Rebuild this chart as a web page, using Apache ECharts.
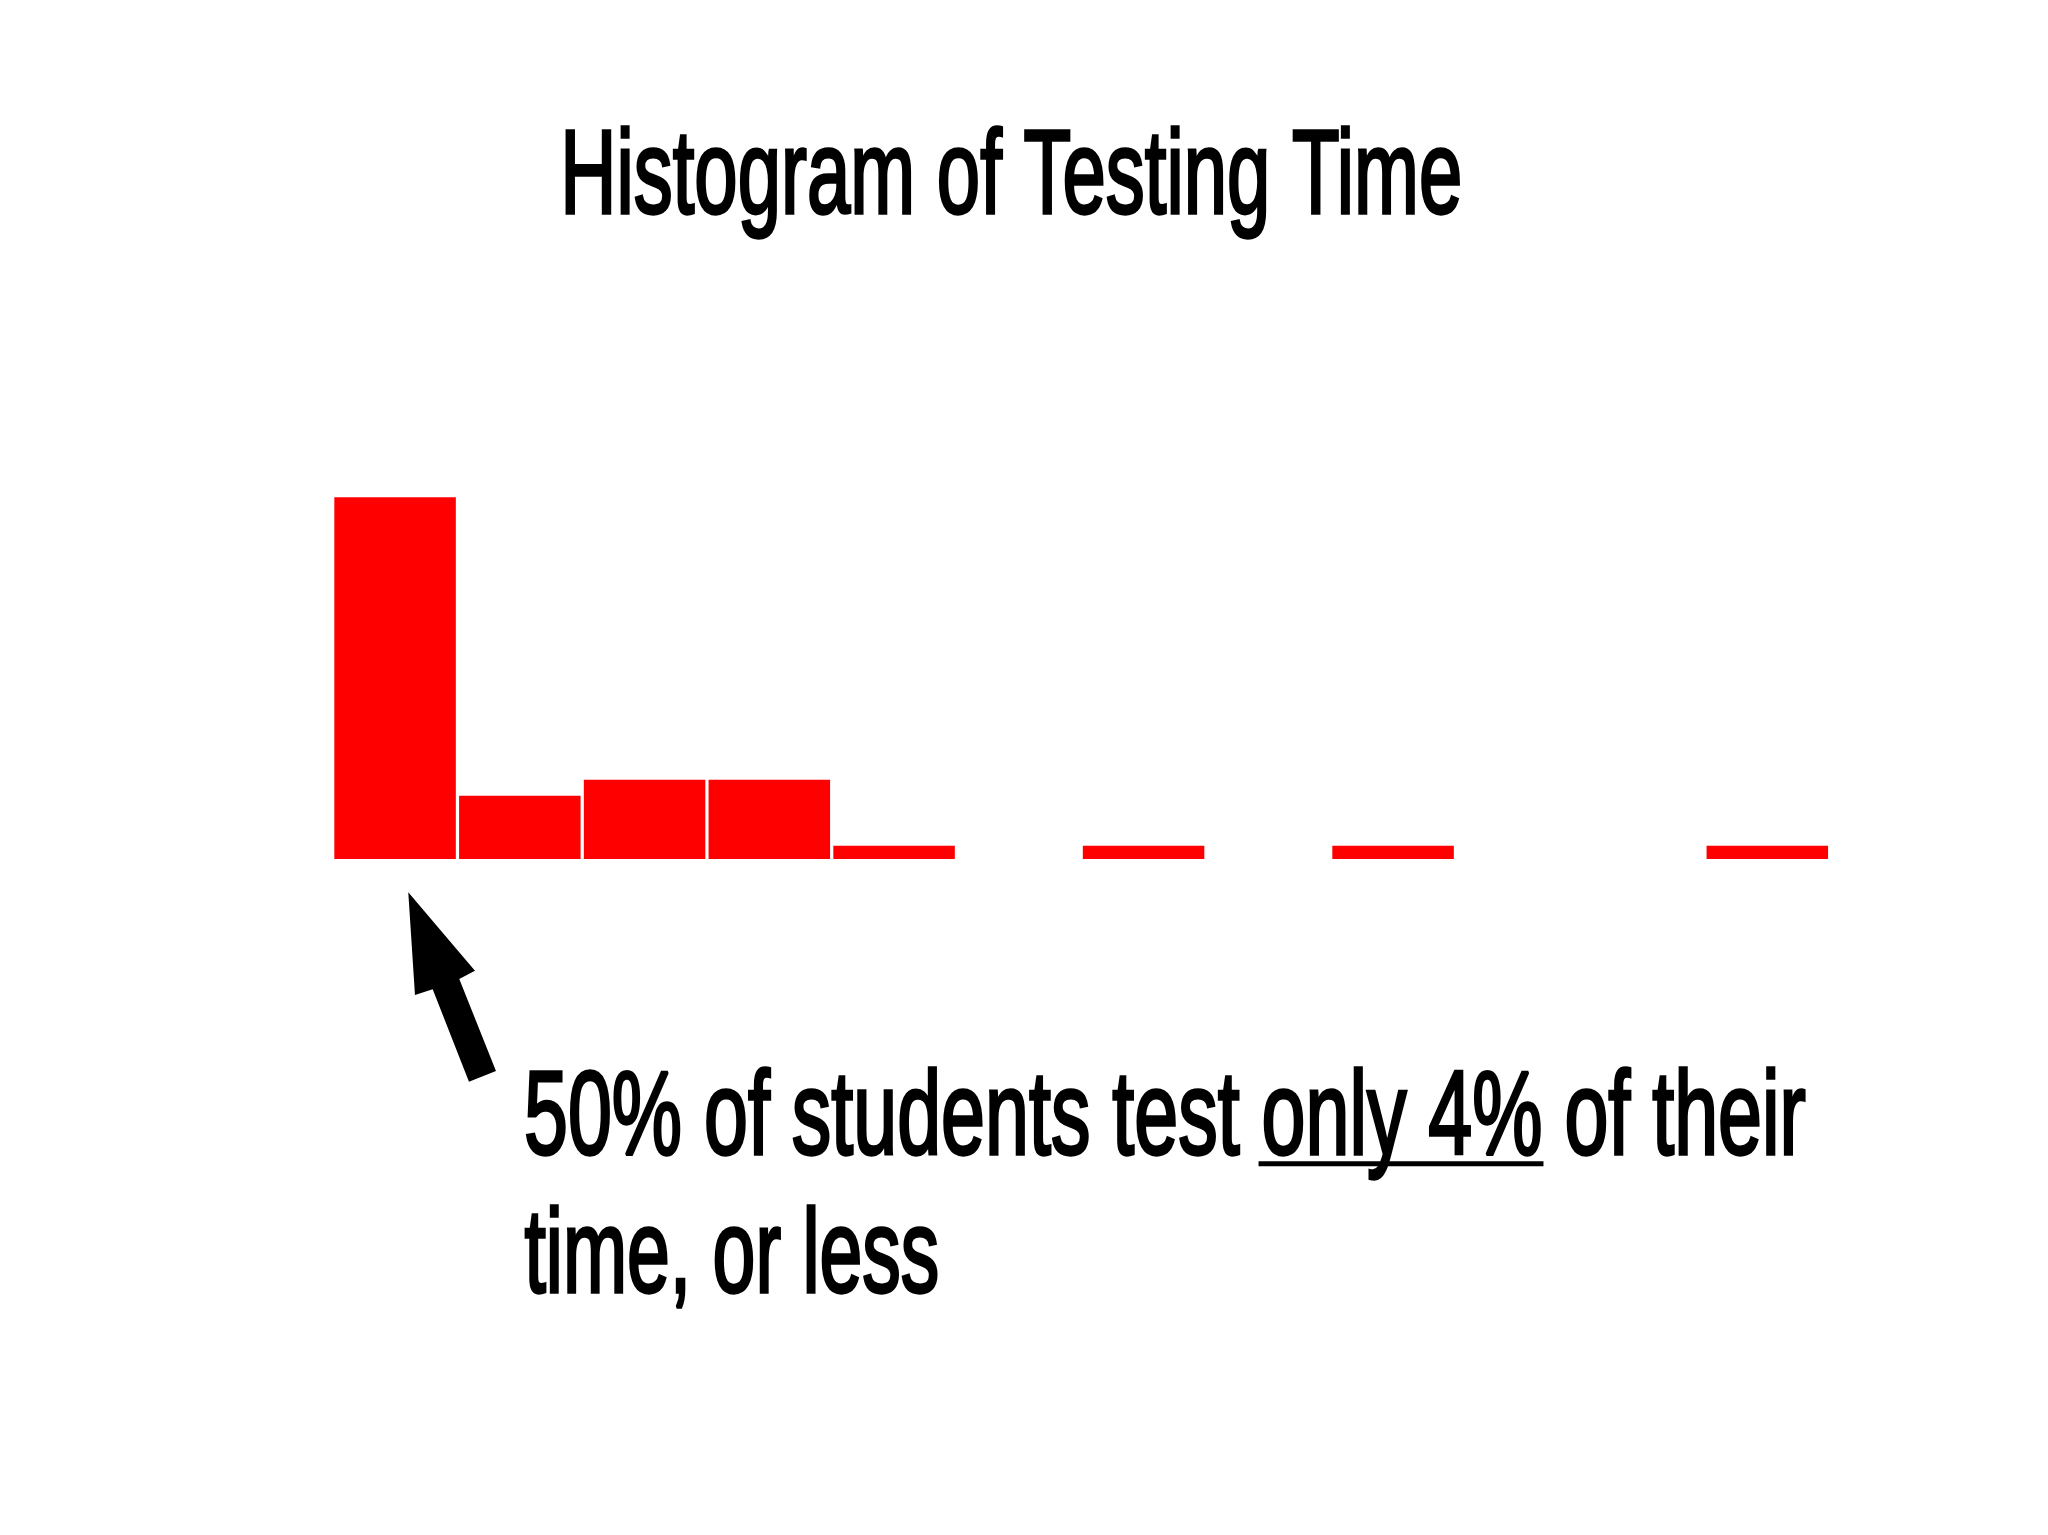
<!DOCTYPE html>
<html>
<head>
<meta charset="utf-8">
<script src="https://cdn.jsdelivr.net/npm/echarts@6/dist/echarts.min.js"></script>
<style>
html,body{margin:0;padding:0;background:#ffffff;}
#chart{width:2048px;height:1535px;}
</style>
</head>
<body>
<div id="chart"></div>
<script>
// ---- data ----
const titleText = 'Histogram of Testing Time';
const binLabels = ['1', '2', '3', '4', '5', '6', '7', '8', '9', '10', '11', '12'];
const binCounts = [27.2, 4.75, 5.95, 5.95, 1, 0, 1, 0, 1, 0, 0, 1];
const yAxisMax = 30;
const noteLine1 = '50% of students test only 4% of their';
const noteLine2 = 'time, or less';
const notePrefix = '50% of students test ';
const noteUnderlined = 'only 4%';

// ---- font helpers ----
const ctx = document.createElement('canvas').getContext('2d');
function hasFont(name) {
  const t = 'abcdefghijklmnopqrstuvwxyz ABCDEFGHIJ 0123456789%';
  for (const base of ['monospace', 'serif']) {
    ctx.font = '72px ' + base;
    const w0 = ctx.measureText(t).width;
    ctx.font = '72px "' + name + '", ' + base;
    const w1 = ctx.measureText(t).width;
    if (Math.abs(w0 - w1) > 0.5) return true;
  }
  return false;
}
let family = '"Liberation Sans", Arial, sans-serif';
if (hasFont('Liberation Sans Narrow')) family = '"Liberation Sans Narrow", "Liberation Sans", sans-serif';
const WEIGHT = 'normal';
const BW = 3.3; // outline that thickens the strokes

function fontStr(size) { return WEIGHT + ' ' + size.toFixed(2) + 'px ' + family; }

function sizeForCap(capH) {
  ctx.font = fontStr(100);
  ctx.textBaseline = 'middle';
  const m = ctx.measureText('H');
  const ratio = (m.actualBoundingBoxAscent + m.actualBoundingBoxDescent) / 100;
  return (capH - BW) / ratio;
}
function baseOffset(size) {
  ctx.font = fontStr(size);
  ctx.textBaseline = 'middle';
  return ctx.measureText('H').actualBoundingBoxDescent;
}
function ink(text, size) {
  ctx.font = fontStr(size);
  ctx.textBaseline = 'middle';
  const m = ctx.measureText(text);
  return { l: m.actualBoundingBoxLeft, r: m.actualBoundingBoxRight, w: m.width };
}
function textEl(text, size, inkL, inkR, baseline) {
  const d = baseOffset(size);
  const m = ink(text, size);
  const s = (inkR - inkL) / (m.l + m.r + BW);
  return {
    s: s,
    x: inkL + (m.l + BW / 2) * s,
    el: {
      type: 'text', x: inkL + (m.l + BW / 2) * s, y: baseline - d - BW / 2, scaleX: s, scaleY: 1,
      style: { text: text, font: fontStr(size), fill: '#000000',
        stroke: '#000000', lineWidth: BW, lineJoin: 'round',
        textAlign: 'left', textVerticalAlign: 'middle', align: 'left', verticalAlign: 'middle' }
    }
  };
}

// ---- chart ----
const chart = echarts.init(document.getElementById('chart'), null, { renderer: 'canvas' });
chart.setOption({
  backgroundColor: '#ffffff',
  animation: false,
  grid: { left: 332.7, right: 218.3, top: 460, bottom: 676 },
  xAxis: { type: 'category', data: binLabels, show: false },
  yAxis: { type: 'value', min: 0, max: yAxisMax, show: false },
  series: [{
    type: 'bar',
    data: binCounts,
    barCategoryGap: '2.6%',
    itemStyle: { color: '#ff0000' }
  }]
});

// ---- text & annotation layout ----
const graphics = [];

// title
{
  const size = sizeForCap(85.3);
  graphics.push(textEl(titleText, size, 565, 1460, 214.3).el);
}

// annotation
{
  const size = sizeForCap(85);
  const t1 = textEl(noteLine1, size, 525.6, 1806, 1155.5);
  graphics.push(t1.el);
  const t2 = textEl(noteLine2, size, 524, 937.6, 1293.3);
  graphics.push(t2.el);
  // underline under "only 4%"
  ctx.font = fontStr(size);
  const w0 = ctx.measureText(notePrefix).width;
  const w1 = ctx.measureText(notePrefix + noteUnderlined).width;
  graphics.push({
    type: 'line',
    shape: { x1: t1.x + w0 * t1.s - 3, y1: 1163.7, x2: t1.x + w1 * t1.s + 1, y2: 1163.7 },
    style: { stroke: '#000000', lineWidth: 5 }
  });
}

// arrow pointing at first bin (anchored to the first bar's base)
{
  const p = chart.convertToPixel({ gridIndex: 0 }, [0, 0]);
  const tx = p[0] + 13.2, ty = p[1] + 33.3;
  const rel = [[0, 0], [66.7, 78.4], [51, 86.7], [87.7, 178.7], [60.7, 189.4], [24.4, 97], [6.7, 102.7]];
  graphics.push({
    type: 'polygon',
    shape: { points: rel.map(q => [tx + q[0], ty + q[1]]) },
    style: { fill: '#000000' }
  });
}

chart.setOption({ graphic: graphics });
</script>
</body>
</html>
